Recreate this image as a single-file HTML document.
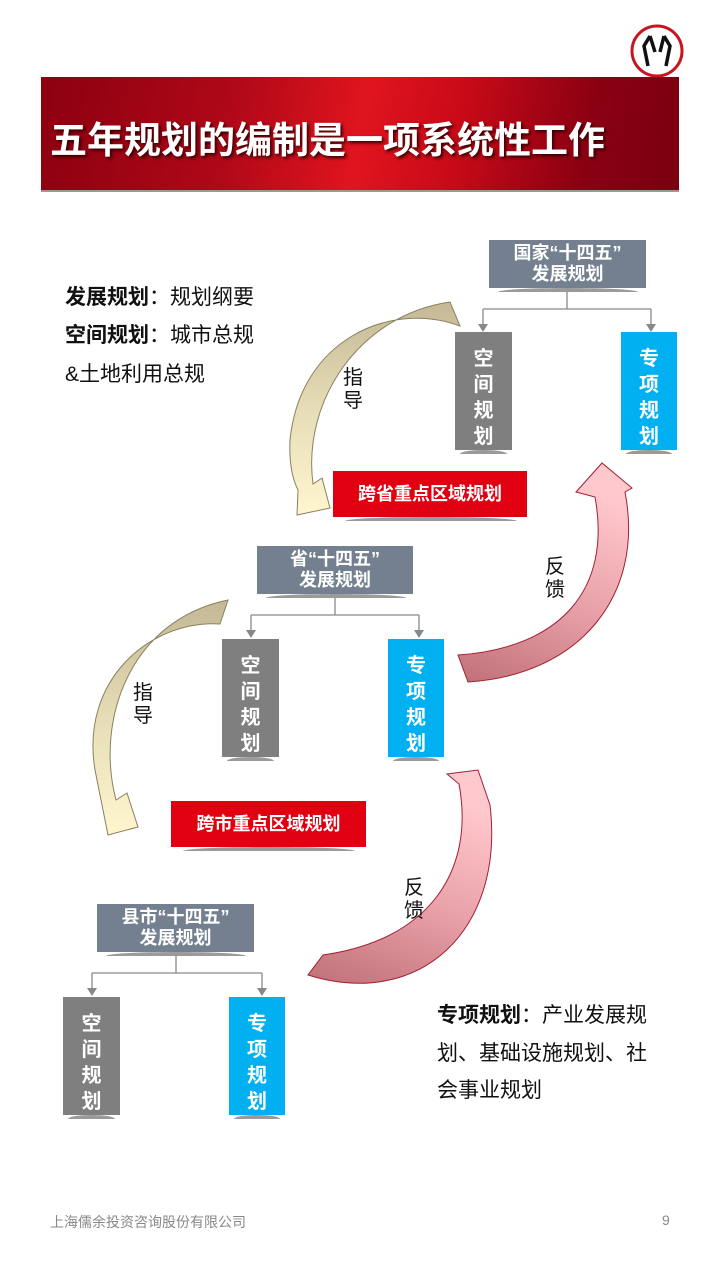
<!DOCTYPE html>
<html><head><meta charset="utf-8"><style>
*{margin:0;padding:0;box-sizing:border-box}
body{width:720px;height:1280px;background:#fff;position:relative;overflow:hidden;font-family:"Liberation Sans","Noto Sans CJK SC",sans-serif}
.a{position:absolute}
.banner{left:41px;top:77px;width:638px;height:115px;background:linear-gradient(100deg,#8c0010 0%,#b00818 30%,#e0141e 50%,#c80a18 65%,#8a0012 85%,#7a0010 100%);border-bottom:2px solid #999}
.title{left:50px;top:110px;color:#fff;font-size:37px;font-weight:bold;text-shadow:2px 2px 3px #300;letter-spacing:0px;white-space:nowrap}
.hd{background:#74808f;color:#fff;font-weight:bold;font-size:18px;line-height:21px;text-align:center;padding-top:3px}
.v{color:#fff;font-weight:bold;font-size:20px;line-height:26px;text-align:center;padding-top:14px}
.g{background:#7f7f7f}.b{background:#00b0f0}
.r{background:#e00012;color:#fff;font-weight:bold;font-size:18px;text-align:center}
.sh{background:#9a9a9a;height:4px;border-radius:50% 50% 0 0/100% 100% 0 0}
.t{font-size:21px;color:#111;line-height:38px;white-space:nowrap}
.lbl{font-size:20px;color:#111;line-height:23px;width:22px}
</style></head><body>
<div class="a banner"></div>
<div class="a title">五年规划的编制是一项系统性工作</div>
<svg class="a" style="left:628px;top:22px" width="58" height="58"><circle cx="29" cy="29" r="25" fill="#fff" stroke="#c8141e" stroke-width="3"/><path d="M22 14 L16 24 L20 44 M22 14 L27 30 M36 14 L32 30 M36 14 L42 24 L38 44" stroke="#111" stroke-width="3.5" fill="none"/></svg>

<svg class="a" style="left:0;top:0" width="720" height="1280">
<defs>
<linearGradient id="gd" x1="0" y1="0" x2="0" y2="1"><stop offset="0" stop-color="#c4b896"/><stop offset="0.5" stop-color="#e6ddb6"/><stop offset="1" stop-color="#fff6d0"/></linearGradient>
<linearGradient id="fb" x1="0" y1="1" x2="0.3" y2="0"><stop offset="0" stop-color="#c07078"/><stop offset="0.5" stop-color="#e8a0a8"/><stop offset="1" stop-color="#ffc8cc"/></linearGradient>
</defs>
<g stroke="#888" stroke-width="1.3" fill="none">
<path d="M567 288 V309 M483 309 H651 M483 309 V326 M651 309 V326"/>
<path d="M335 594 V615 M251 615 H419 M251 615 V632 M419 615 V632"/>
<path d="M176 952 V973 M92 973 H262 M92 973 V990 M262 973 V990"/>
</g>
<g fill="#888">
<path d="M478 324 L488 324 L483 332Z M646 324 L656 324 L651 332Z"/>
<path d="M246 630 L256 630 L251 638Z M414 630 L424 630 L419 638Z"/>
<path d="M87 988 L97 988 L92 996Z M257 988 L267 988 L262 996Z"/>
</g>
<!-- guide 1 -->
<path d="M460 326 C 390 300 300 340 290 440 C 289 462 292 478 298 490 L 297 515 L 330 508 L 322 478 L 313 484 C 302 400 360 315 450 302 Z" fill="url(#gd)" stroke="#8a8060" stroke-width="1"/>
<!-- guide 2 -->
<path d="M220 624 C 150 620 80 680 95 770 L 108 835 L 138 827 L 127 793 L 116 800 C 95 720 130 620 228 600 Z" fill="url(#gd)" stroke="#8a8060" stroke-width="1"/>
<!-- feedback 1 -->
<path d="M468 682 C 580 675 645 595 625 492 L 632 488 L 602 463 L 576 492 L 595 497 C 612 590 560 648 458 655 Z" fill="url(#fb)" stroke="#a02030" stroke-width="1"/>
<!-- feedback 2 -->
<path d="M308 975 C 420 1010 505 930 490 805 L 478 770 L 447 774 L 459 784 C 475 870 430 940 323 955 Z" fill="url(#fb)" stroke="#a02030" stroke-width="1"/>
</svg>

<div class="a hd" style="left:489px;top:240px;width:157px;height:48px">国家“十四五”<br>发展规划</div>
<div class="a sh" style="left:498px;top:288px;width:140px"></div>
<div class="a v g" style="left:455px;top:332px;width:57px;height:118px">空<br>间<br>规<br>划</div>
<div class="a sh" style="left:460px;top:450px;width:47px"></div>
<div class="a v b" style="left:621px;top:332px;width:56px;height:118px">专<br>项<br>规<br>划</div>
<div class="a sh" style="left:626px;top:450px;width:46px"></div>
<div class="a r" style="left:333px;top:471px;width:194px;height:46px;line-height:46px">跨省重点区域规划</div>
<div class="a sh" style="left:345px;top:517px;width:172px"></div>

<div class="a hd" style="left:257px;top:546px;width:156px;height:48px">省“十四五”<br>发展规划</div>
<div class="a sh" style="left:266px;top:594px;width:140px"></div>
<div class="a v g" style="left:222px;top:639px;width:57px;height:118px">空<br>间<br>规<br>划</div>
<div class="a sh" style="left:227px;top:757px;width:47px"></div>
<div class="a v b" style="left:388px;top:639px;width:56px;height:118px">专<br>项<br>规<br>划</div>
<div class="a sh" style="left:393px;top:757px;width:46px"></div>
<div class="a r" style="left:171px;top:801px;width:195px;height:46px;line-height:46px">跨市重点区域规划</div>
<div class="a sh" style="left:183px;top:847px;width:172px"></div>

<div class="a hd" style="left:97px;top:904px;width:157px;height:48px">县市“十四五”<br>发展规划</div>
<div class="a sh" style="left:106px;top:952px;width:140px"></div>
<div class="a v g" style="left:63px;top:997px;width:57px;height:118px">空<br>间<br>规<br>划</div>
<div class="a sh" style="left:68px;top:1115px;width:47px"></div>
<div class="a v b" style="left:229px;top:997px;width:56px;height:118px">专<br>项<br>规<br>划</div>
<div class="a sh" style="left:234px;top:1115px;width:46px"></div>

<div class="a lbl" style="left:343px;top:367px">指<br>导</div>
<div class="a lbl" style="left:545px;top:556px">反<br>馈</div>
<div class="a lbl" style="left:133px;top:682px">指<br>导</div>
<div class="a lbl" style="left:404px;top:877px">反<br>馈</div>

<div class="a t" style="left:65px;top:279px"><b>发展规划</b>：规划纲要</div>
<div class="a t" style="left:65px;top:317px"><b>空间规划</b>：城市总规</div>
<div class="a t" style="left:65px;top:356px">&amp;土地利用总规</div>

<div class="a t" style="left:437px;top:997px"><b>专项规划</b>：产业发展规</div>
<div class="a t" style="left:437px;top:1035px">划、基础设施规划、社</div>
<div class="a t" style="left:437px;top:1072px">会事业规划</div>

<div class="a" style="left:50px;top:1212px;font-size:14px;color:#888">上海儒余投资咨询股份有限公司</div>
<div class="a" style="left:662px;top:1212px;font-size:14px;color:#888">9</div>
</body></html>
